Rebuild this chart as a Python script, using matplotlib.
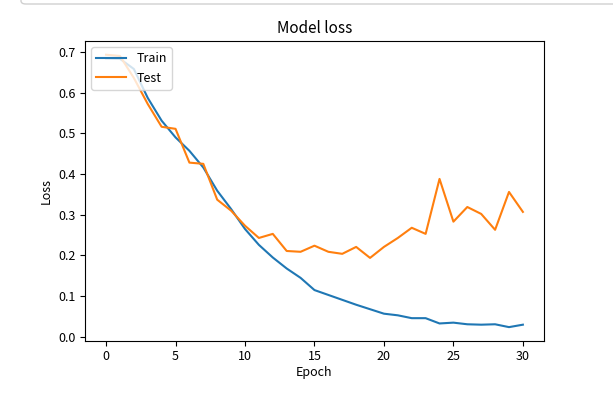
import matplotlib
matplotlib.use("Agg")
import matplotlib.pyplot as plt
from matplotlib.patches import FancyBboxPatch

plt.rcParams['font.family'] = ['Noto Sans CJK SC', 'DejaVu Sans']
plt.rcParams['axes.unicode_minus'] = False

epochs = list(range(31))
train_loss = [0.684, 0.683, 0.658, 0.587, 0.531, 0.490, 0.457, 0.416, 0.359, 0.314,
              0.265, 0.226, 0.195, 0.168, 0.145, 0.115, 0.103, 0.091, 0.079, 0.068,
              0.057, 0.053, 0.046, 0.046, 0.033, 0.035, 0.031, 0.030, 0.031, 0.024,
              0.030]
test_loss = [0.693, 0.690, 0.636, 0.572, 0.516, 0.511, 0.428, 0.425, 0.337, 0.310,
             0.273, 0.243, 0.253, 0.211, 0.209, 0.224, 0.209, 0.204, 0.221, 0.194,
             0.221, 0.243, 0.268, 0.253, 0.388, 0.283, 0.319, 0.302, 0.263, 0.356,
             0.307]

fig = plt.figure(figsize=(6.13, 3.99), dpi=100)
ax = fig.add_axes([0.139, 0.146, 0.748, 0.751])

ax.plot(epochs, train_loss, color='#1f77b4', lw=1.5)
ax.plot(epochs, test_loss, color='#ff7f0e', lw=1.5)
ax.set_title('Model loss', fontsize=11)
ax.set_ylabel('Loss', fontsize=9)
ax.set_xlabel('Epoch', fontsize=9, labelpad=2)
ax.legend(['Train', 'Test'], loc='upper left', fontsize=9, handlelength=2.4)
ax.tick_params(labelsize=9)

# bottom edge of the notebook cell above the figure
fig.patches.append(FancyBboxPatch((21 / 613, 1 - 4 / 399), 0.99, 0.05,
                                  boxstyle='round,pad=0,rounding_size=0.008',
                                  transform=fig.transFigure, fc='none',
                                  ec='#d0d0d0', lw=1, clip_on=False))

fig.savefig('out.png', dpi=100)
